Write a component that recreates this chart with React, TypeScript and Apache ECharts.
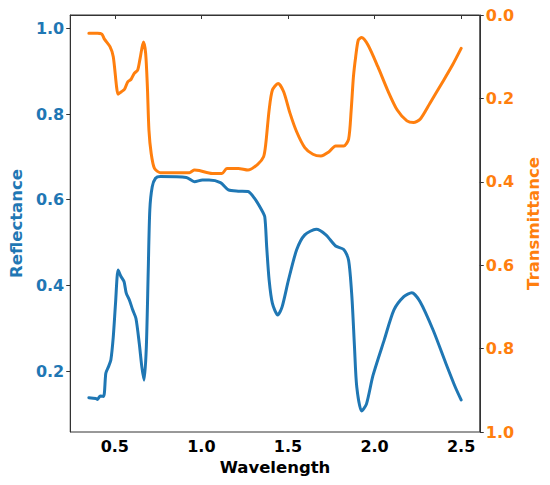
import React, { useEffect, useRef } from "react";
import * as echarts from "echarts";

const BLUE = "#1f77b4";
const ORANGE = "#ff7f0e";

const wavelengthR = [0.35, 0.39, 0.40, 0.415, 0.435, 0.448, 0.463, 0.477, 0.491, 0.504, 0.519, 0.534, 0.553, 0.566, 0.584, 0.603, 0.622, 0.641, 0.656, 0.669, 0.682, 0.693, 0.702, 0.716, 0.735, 0.763, 0.913, 0.96, 1.006, 1.044, 1.11, 1.156, 1.213, 1.269, 1.307, 1.348, 1.366, 1.377, 1.391, 1.41, 1.441, 1.466, 1.503, 1.55, 1.597, 1.663, 1.719, 1.775, 1.822, 1.85, 1.869, 1.884, 1.897, 1.925, 1.953, 1.991, 2.056, 2.112, 2.169, 2.215, 2.263, 2.338, 2.412, 2.469, 2.5];
const reflectance = [0.138, 0.136, 0.134, 0.142, 0.141, 0.195, 0.21, 0.226, 0.28, 0.358, 0.436, 0.422, 0.409, 0.382, 0.366, 0.343, 0.323, 0.265, 0.21, 0.179, 0.257, 0.436, 0.576, 0.63, 0.65, 0.654, 0.652, 0.642, 0.646, 0.646, 0.64, 0.623, 0.62, 0.619, 0.603, 0.576, 0.56, 0.49, 0.413, 0.358, 0.331, 0.35, 0.413, 0.483, 0.518, 0.531, 0.518, 0.492, 0.484, 0.459, 0.374, 0.257, 0.164, 0.107, 0.123, 0.19, 0.273, 0.343, 0.374, 0.383, 0.362, 0.296, 0.218, 0.16, 0.133];

const wavelengthT = [0.35, 0.40, 0.425, 0.44, 0.472, 0.491, 0.51, 0.519, 0.538, 0.556, 0.575, 0.594, 0.612, 0.632, 0.646, 0.665, 0.678, 0.688, 0.697, 0.71, 0.729, 0.763, 0.931, 0.96, 0.988, 1.062, 1.119, 1.147, 1.213, 1.269, 1.325, 1.359, 1.372, 1.391, 1.41, 1.443, 1.475, 1.512, 1.55, 1.597, 1.644, 1.69, 1.737, 1.775, 1.822, 1.85, 1.865, 1.878, 1.891, 1.906, 1.925, 1.962, 2.019, 2.075, 2.131, 2.187, 2.225, 2.263, 2.319, 2.394, 2.45, 2.5];
const transmittance = [0.044, 0.044, 0.046, 0.058, 0.076, 0.10, 0.172, 0.19, 0.184, 0.178, 0.16, 0.154, 0.14, 0.132, 0.104, 0.065, 0.092, 0.172, 0.276, 0.332, 0.368, 0.378, 0.378, 0.372, 0.373, 0.38, 0.38, 0.368, 0.368, 0.372, 0.358, 0.34, 0.308, 0.228, 0.18, 0.164, 0.184, 0.236, 0.28, 0.318, 0.334, 0.338, 0.328, 0.314, 0.314, 0.298, 0.228, 0.148, 0.10, 0.06, 0.054, 0.072, 0.124, 0.18, 0.228, 0.254, 0.258, 0.25, 0.212, 0.16, 0.12, 0.08];

const xTicks = [0.5, 1.0, 1.5, 2.0, 2.5];
const reflTicks = [0.2, 0.4, 0.6, 0.8, 1.0];

const FONT = "DejaVu Sans";

export default function App() {
  const ref = useRef<HTMLDivElement>(null);
  useEffect(() => {
    document.body.style.margin = "0";
    const chart = echarts.init(ref.current!, null, { renderer: "svg" });
    const tickLabel = (color: string) => ({
      color,
      fontFamily: FONT,
      fontWeight: "bold" as const,
      fontSize: 16,
      formatter: (v: number) => v.toFixed(1),
    });
    chart.setOption({
      animation: false,
      backgroundColor: "#fff",
      grid: {
        left: 66,
        top: 15,
        right: 61,
        bottom: 53,
        show: true,
        borderColor: "#333",
        borderWidth: 1,
        containLabel: false,
      },
      xAxis: {
        type: "value",
        min: 0.2425,
        max: 2.6075,
        name: "Wavelength",
        nameLocation: "middle",
        nameGap: 27,
        nameTextStyle: { fontFamily: FONT, fontWeight: "bold", fontSize: 16.5, color: "#000" },
        splitLine: { show: false },
        axisLine: { show: true, lineStyle: { color: "#333", width: 1 } },
        axisTick: { show: true, customValues: xTicks, length: 4, lineStyle: { color: "#333" } },
        axisLabel: { ...tickLabel("#000"), customValues: xTicks, margin: 6 },
      },
      yAxis: [
        {
          type: "value",
          min: 0.058,
          max: 1.031,
          position: "left",
          name: "Reflectance",
          nameLocation: "middle",
          nameRotate: 90,
          nameGap: 40,
          nameTextStyle: { fontFamily: FONT, fontWeight: "bold", fontSize: 16.5, color: BLUE },
          splitLine: { show: false },
          axisLine: { show: true, lineStyle: { color: "#333", width: 1 } },
          axisTick: { show: true, customValues: reflTicks, length: 4, lineStyle: { color: "#333" } },
          axisLabel: { ...tickLabel(BLUE), customValues: reflTicks, margin: 6 },
        },
        {
          type: "value",
          min: 0,
          max: 1,
          interval: 0.2,
          inverse: true,
          position: "right",
          name: "Transmittance",
          nameLocation: "middle",
          nameRotate: 90,
          nameGap: 39,
          nameTextStyle: { fontFamily: FONT, fontWeight: "bold", fontSize: 16.5, color: ORANGE },
          splitLine: { show: false },
          axisLine: { show: true, lineStyle: { color: "#333", width: 1 } },
          axisTick: { show: true, length: 4, lineStyle: { color: "#333" } },
          axisLabel: { ...tickLabel(ORANGE), margin: 6 },
        },
      ],
      series: [
        {
          type: "line",
          yAxisIndex: 0,
          data: wavelengthR.map((w, i) => [w, reflectance[i]]),
          showSymbol: false,
          smooth: 0.25,
          lineStyle: { color: BLUE, width: 3, cap: "round", join: "round" },
          itemStyle: { color: BLUE },
        },
        {
          type: "line",
          yAxisIndex: 1,
          data: wavelengthT.map((w, i) => [w, transmittance[i]]),
          showSymbol: false,
          smooth: 0.25,
          lineStyle: { color: ORANGE, width: 3, cap: "round", join: "round" },
          itemStyle: { color: ORANGE },
        },
      ],
    });
    return () => chart.dispose();
  }, []);
  return (
    <div
      ref={ref}
      style={{ position: "absolute", left: 0, top: 0, width: 550, height: 485 }}
    />
  );
}
